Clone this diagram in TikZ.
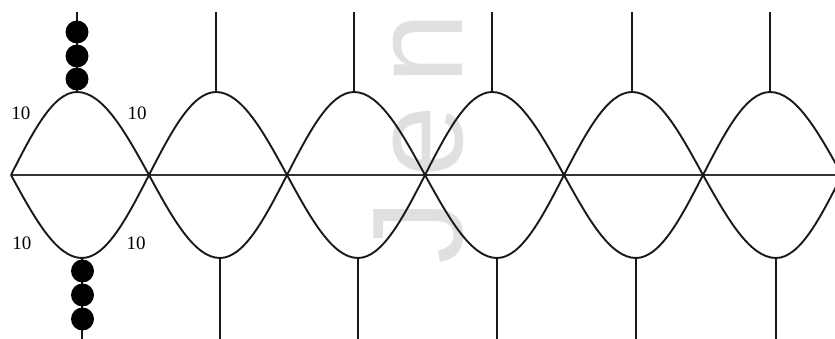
\documentclass[tikz,border=0pt]{standalone}
\usepackage{fontspec}
\setmainfont{Liberation Serif}
\newfontfamily\markfont{Liberation Sans}
\usetikzlibrary{positioning}

\begin{document}
\begin{tikzpicture}[
        x=1pt, y=-1pt,
        wire/.style={line width=1.9pt, black!90},
        bead/.style={circle, fill=black, minimum size=23pt, inner sep=0pt},
        weight/.style={font=\fontsize{19}{21}\selectfont, inner sep=0pt},
        watermark/.style={font=\markfont\fontsize{129}{130}\selectfont, text=black!12,
            inner sep=0pt, rotate=90, anchor=base}
        ]
        \useasboundingbox (0,0) rectangle (835,339);
        \clip (0,0) rectangle (835,339);

        % watermark
        \node[watermark] (wm1) at (462,232) {J};
        \node[watermark] (wm2) at (462,142) {e};
        \node[watermark] (wm3) at (462,49) {n};

        % crossings and bends
        \foreach \x [count=\i from 0] in {11,149,287,425,564,703,842} {
            \coordinate (c\i) at (\x,175);
        }
        \foreach \xt/\xb [count=\i] in {77/82,216/220,354/358,492/497,632/636,770/776} {
            \coordinate (t\i) at (\xt,92);
            \coordinate (b\i) at (\xb,258);
            \coordinate (u\i) at (\xt,12);
            \coordinate (d\i) at (\xb,339);
        }

        % axis
        \draw[wire, line width=2.2pt, black!80] (c0) -- (c6);

        % lenses
        \foreach \i in {1,...,6} {
            \pgfmathtruncatemacro{\prev}{\i-1}
            \draw[wire] (c\prev) sin (t\i) cos (c\i);
            \draw[wire] (c\prev) sin (b\i) cos (c\i);
        }

        % legs
        \foreach \i in {1,...,6} {
            \draw[wire] (t\i) -- (u\i);
            \draw[wire] (b\i) -- (d\i);
        }

        % beads on the first lens
        \foreach \y [count=\k] in {32,56,79} {
            \node[bead] (p\k) at (77,\y) {};
        }
        \foreach \y [count=\k] in {271,295,319} {
            \node[bead] (q\k) at (82.5,\y) {};
        }

        % weights
        \node[weight] (w1) at (21,113) {10};
        \node[weight] (w2) at (137,113) {10};
        \node[weight] (w3) at (22,243) {10};
        \node[weight] (w4) at (136,243) {10};
    \end{tikzpicture}
\end{document}
